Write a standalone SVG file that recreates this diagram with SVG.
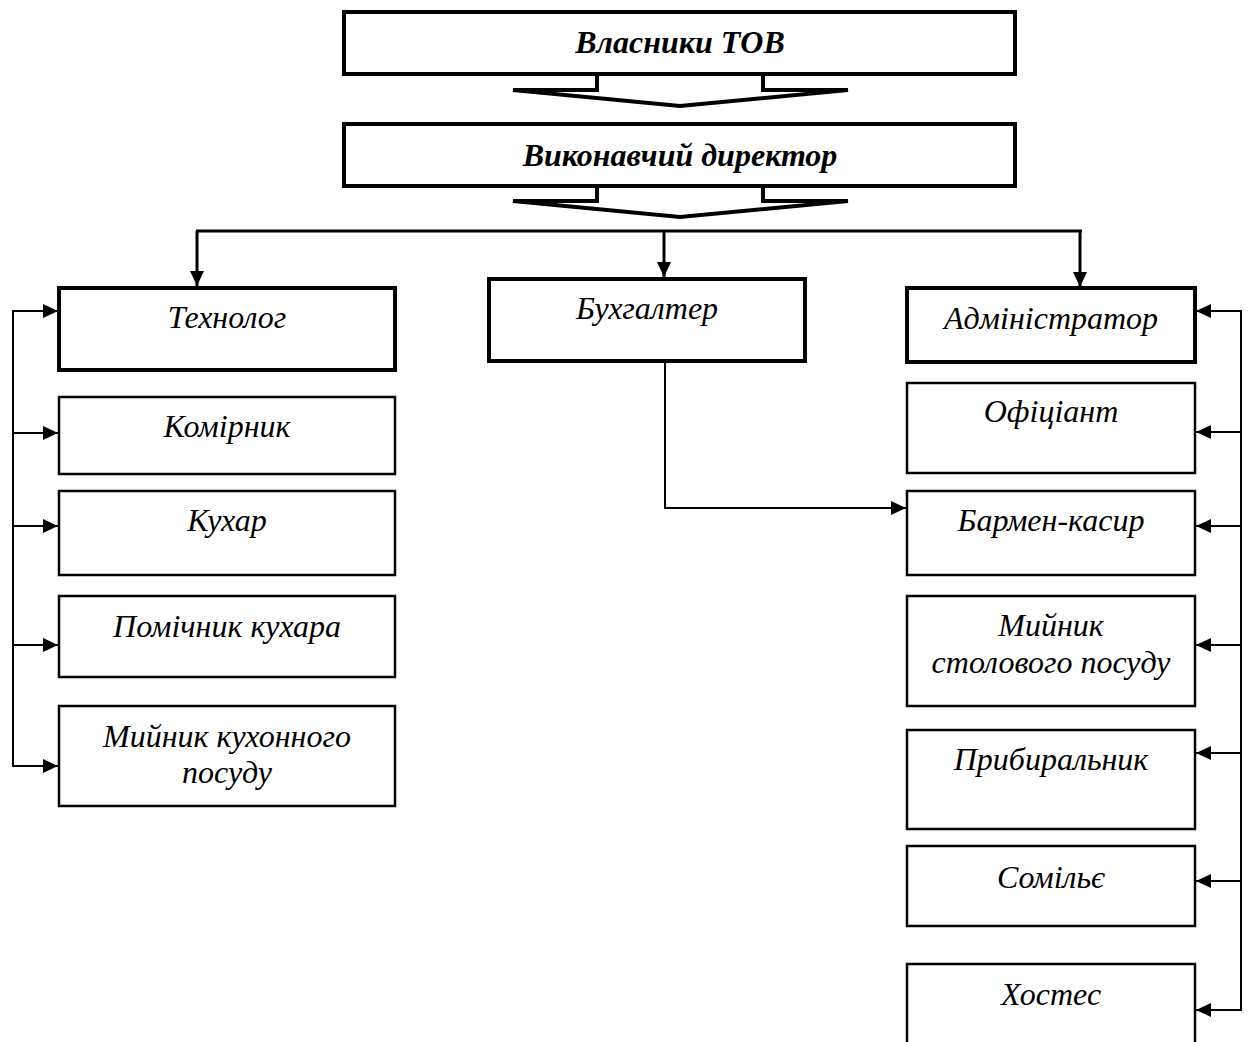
<svg xmlns="http://www.w3.org/2000/svg" width="1254" height="1042" viewBox="0 0 1254 1042">
<style>
.box{fill:#fff;stroke:#000;stroke-width:2.5}
.head{fill:#fff;stroke:#000;stroke-width:4}
.t{font-family:"Liberation Serif","Times New Roman",serif;font-style:italic;font-size:32px;text-anchor:middle;fill:#000}
.tb{font-family:"Liberation Serif","Times New Roman",serif;font-style:italic;font-weight:bold;font-size:32px;text-anchor:middle;fill:#000}
.c{fill:none;stroke:#000;stroke-width:2}
.cb{fill:none;stroke:#000;stroke-width:3}
.fat{fill:none;stroke:#000;stroke-width:4;stroke-linejoin:miter}
</style>
<defs>
<marker id="ah" markerUnits="userSpaceOnUse" markerWidth="16" markerHeight="14" refX="15" refY="7" orient="auto">
<path d="M0,0 L15,7 L0,14 z" fill="#000"/>
</marker>
</defs>
<rect width="1254" height="1042" fill="#fff"/>
<g id="connectors">
<polyline class="fat" points="597,74 597,90 513,90 680,106 848,90 763,90 763,74"/>
<polyline class="fat" points="597,186 597,201 513,201 680,217 848,201 763,201 763,186"/>
<line class="cb" x1="196" y1="231" x2="1082" y2="231"/>
<line class="cb" x1="197" y1="231" x2="197" y2="286" marker-end="url(#ah)"/>
<line class="cb" x1="664" y1="231" x2="664" y2="277" marker-end="url(#ah)"/>
<line class="cb" x1="1080" y1="231" x2="1080" y2="287" marker-end="url(#ah)"/>
<line class="c" x1="13" y1="310" x2="13" y2="767"/>
<line class="c" x1="12" y1="311" x2="58" y2="311" marker-end="url(#ah)"/>
<line class="c" x1="12" y1="433" x2="58" y2="433" marker-end="url(#ah)"/>
<line class="c" x1="12" y1="526" x2="58" y2="526" marker-end="url(#ah)"/>
<line class="c" x1="12" y1="645" x2="58" y2="645" marker-end="url(#ah)"/>
<line class="c" x1="12" y1="766" x2="58" y2="766" marker-end="url(#ah)"/>
<polyline class="c" points="665,362 665,508 906,508" marker-end="url(#ah)"/>
<line class="c" x1="1241" y1="310" x2="1241" y2="1011"/>
<line class="c" x1="1242" y1="311" x2="1196" y2="311" marker-end="url(#ah)"/>
<line class="c" x1="1242" y1="432" x2="1196" y2="432" marker-end="url(#ah)"/>
<line class="c" x1="1242" y1="526" x2="1196" y2="526" marker-end="url(#ah)"/>
<line class="c" x1="1242" y1="645" x2="1196" y2="645" marker-end="url(#ah)"/>
<line class="c" x1="1242" y1="753" x2="1196" y2="753" marker-end="url(#ah)"/>
<line class="c" x1="1242" y1="881" x2="1196" y2="881" marker-end="url(#ah)"/>
<line class="c" x1="1242" y1="1010" x2="1196" y2="1010" marker-end="url(#ah)"/>
</g>
<g id="owners"><rect class="head" x="344" y="12" width="671" height="62"/><text class="tb" x="680" y="53">Власники ТОВ</text></g>
<g id="director"><rect class="head" x="344" y="124" width="671" height="62"/><text class="tb" x="680" y="166">Виконавчий директор</text></g>
<g id="technolog"><rect class="head" x="59" y="288" width="336" height="82"/><text class="t" x="227" y="328">Технолог</text></g>
<g id="komirnyk"><rect class="box" x="59" y="397" width="336" height="77"/><text class="t" x="227" y="437">Комірник</text></g>
<g id="kukhar"><rect class="box" x="59" y="491" width="336" height="84"/><text class="t" x="227" y="531">Кухар</text></g>
<g id="pomichnyk"><rect class="box" x="59" y="596" width="336" height="81"/><text class="t" x="227" y="637">Помічник кухара</text></g>
<g id="myinyk-kukh"><rect class="box" x="59" y="706" width="336" height="100"/><text class="t" x="227" y="747">Мийник кухонного</text><text class="t" x="227" y="783">посуду</text></g>
<g id="bukhalter"><rect class="head" x="489" y="279" width="316" height="82"/><text class="t" x="647" y="319">Бухгалтер</text></g>
<g id="admin"><rect class="head" x="907" y="288" width="288" height="74"/><text class="t" x="1051" y="329">Адміністратор</text></g>
<g id="ofitsiant"><rect class="box" x="907" y="383" width="288" height="90"/><text class="t" x="1051" y="422">Офіціант</text></g>
<g id="barmen"><rect class="box" x="907" y="491" width="288" height="84"/><text class="t" x="1051" y="531">Бармен-касир</text></g>
<g id="myinyk-stol"><rect class="box" x="907" y="596" width="288" height="110"/><text class="t" x="1051" y="636">Мийник</text><text class="t" x="1051" y="673">столового посуду</text></g>
<g id="prybyralnyk"><rect class="box" x="907" y="730" width="288" height="99"/><text class="t" x="1051" y="770">Прибиральник</text></g>
<g id="somelie"><rect class="box" x="907" y="846" width="288" height="80"/><text class="t" x="1051" y="888">Сомільє</text></g>
<g id="hostes"><rect class="box" x="907" y="964" width="288" height="90"/><text class="t" x="1051" y="1005">Хостес</text></g>
</svg>
